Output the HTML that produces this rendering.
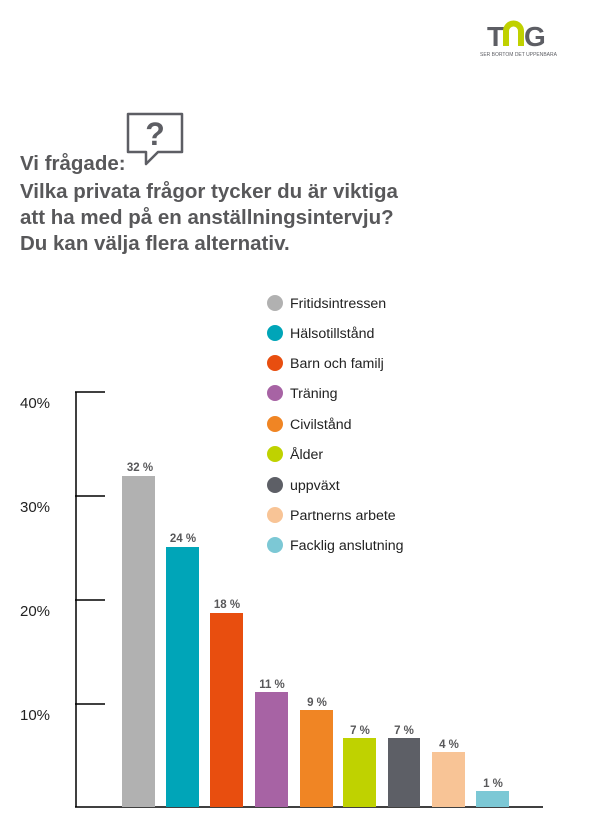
<!DOCTYPE html>
<html><head><meta charset="utf-8"><style>
html,body{margin:0;padding:0;background:#fff;}
svg{display:block;font-family:"Liberation Sans",Arial,sans-serif;}
</style></head><body>
<svg width="602" height="823" viewBox="0 0 602 823" xmlns="http://www.w3.org/2000/svg">
<!-- logo -->
<text x="487" y="46" font-size="28" font-weight="bold" fill="#5d5e64">T</text>
<path d="M506 46 V31 a7.5 7.5 0 0 1 15 0 V46" fill="none" stroke="#c0d100" stroke-width="6"/>
<text x="524" y="46" font-size="28" font-weight="bold" fill="#5d5e64">G</text>
<text x="480" y="56" font-size="5" fill="#5d5e64">SER BORTOM DET UPPENBARA</text>
<!-- speech bubble -->
<path d="M128 114 H182 V152 H158 L146 164 V152 H128 Z" fill="none" stroke="#5d5e64" stroke-width="2.5" stroke-linejoin="round"/>
<text x="155" y="145" font-size="32" font-weight="bold" fill="#5d5e64" text-anchor="middle">?</text>
<!-- title -->
<g font-size="20.5" font-weight="bold" fill="#58585a">
<text x="20" y="170">Vi frågade:</text>
<text x="20" y="198">Vilka privata frågor tycker du är viktiga</text>
<text x="20" y="224">att ha med på en anställningsintervju?</text>
<text x="20" y="250">Du kan välja flera alternativ.</text>
</g>
<!-- legend -->
<g font-size="14.2" fill="#222">
<circle cx="275" cy="303" r="8" fill="#b1b1b1"/><text x="290" y="308">Fritidsintressen</text>
<circle cx="275" cy="333" r="8" fill="#00a5b8"/><text x="290" y="338">Hälsotillstånd</text>
<circle cx="275" cy="363" r="8" fill="#e84e0f"/><text x="290" y="368">Barn och familj</text>
<circle cx="275" cy="393" r="8" fill="#a763a4"/><text x="290" y="398">Träning</text>
<circle cx="275" cy="424" r="8" fill="#f08524"/><text x="290" y="429">Civilstånd</text>
<circle cx="275" cy="454" r="8" fill="#bfd200"/><text x="290" y="459">Ålder</text>
<circle cx="275" cy="485" r="8" fill="#5d5f66"/><text x="290" y="490">uppväxt</text>
<circle cx="275" cy="515" r="8" fill="#f8c496"/><text x="290" y="520">Partnerns arbete</text>
<circle cx="275" cy="545" r="8" fill="#7cc8d5"/><text x="290" y="550">Facklig anslutning</text>
</g>
<!-- y labels -->
<g font-size="15" fill="#222">
<text x="20" y="408">40%</text>
<text x="20" y="512">30%</text>
<text x="20" y="616">20%</text>
<text x="20" y="720">10%</text>
</g>
<!-- axes -->
<g stroke="#000" stroke-width="1.5">
<line x1="76" y1="392" x2="76" y2="807"/>
<line x1="75" y1="807" x2="543" y2="807"/>
<line x1="75" y1="392" x2="105" y2="392"/>
<line x1="75" y1="496" x2="105" y2="496"/>
<line x1="75" y1="600" x2="105" y2="600"/>
<line x1="75" y1="704" x2="105" y2="704"/>
</g>
<!-- bars -->
<rect x="122" y="476" width="33" height="331" fill="#b1b1b1"/>
<rect x="166" y="547" width="33" height="260" fill="#00a5b8"/>
<rect x="210" y="613" width="33" height="194" fill="#e84e0f"/>
<rect x="255" y="692" width="33" height="115" fill="#a763a4"/>
<rect x="300" y="710" width="33" height="97" fill="#f08524"/>
<rect x="343" y="738" width="33" height="69" fill="#bfd200"/>
<rect x="388" y="738" width="32" height="69" fill="#5d5f66"/>
<rect x="432" y="752" width="33" height="55" fill="#f8c496"/>
<rect x="476" y="791" width="33" height="16" fill="#7cc8d5"/>
<g font-size="11.5" font-weight="bold" fill="#58585a" text-anchor="middle">
<text x="140" y="471">32 %</text>
<text x="183" y="542">24 %</text>
<text x="227" y="608">18 %</text>
<text x="272" y="688">11 %</text>
<text x="317" y="706">9 %</text>
<text x="360" y="734">7 %</text>
<text x="404" y="734">7 %</text>
<text x="449" y="748">4 %</text>
<text x="493" y="787">1 %</text>
</g>
</svg>
</body></html>
